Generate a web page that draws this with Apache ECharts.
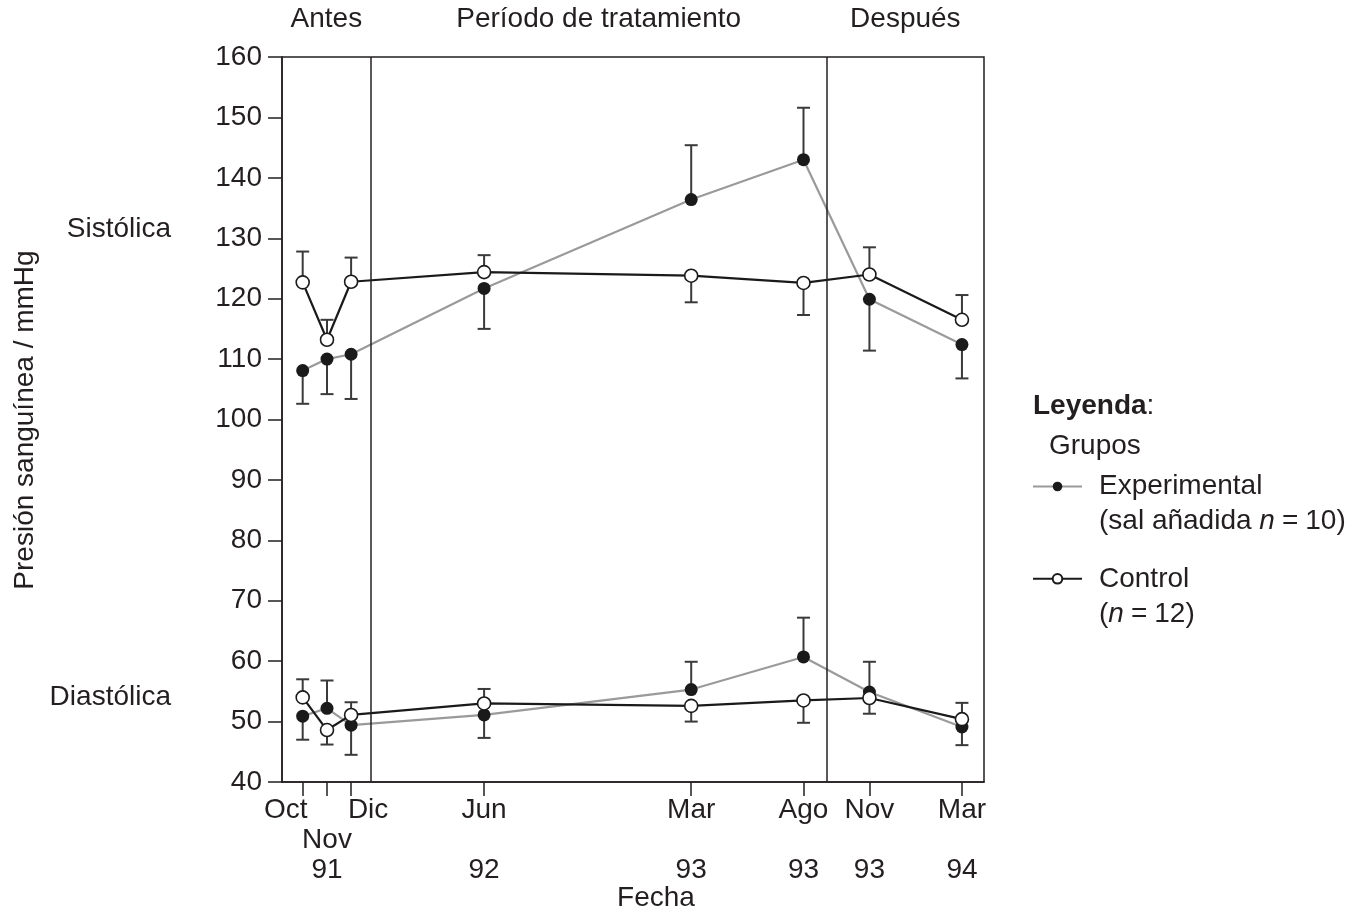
<!DOCTYPE html>
<html><head><meta charset="utf-8">
<script src="https://cdn.jsdelivr.net/npm/echarts@6/dist/echarts.min.js"></script>
<style>html,body{margin:0;padding:0;background:#fff}#c{width:1367px;height:915px}</style>
</head><body><div id="c"></div>
<script>
// Months since Oct 1991 at which measurements were taken
const xVals = [0, 1.07, 2.13, 7.98, 17.09, 22.03, 24.93, 29.0];
const xLabels = ['Oct', '\nNov\n91', 'Dic', 'Jun\n \n92', 'Mar\n \n93', 'Ago\n \n93', 'Nov\n \n93', 'Mar\n \n94'];
const phaseBounds = [2.99, 23.05];
const phaseNames = ['Antes', 'Período de tratamiento', 'Después'];

// Experimental (salt added, n = 10)
const expSys    = [108.1, 110.0, 110.8, 121.7, 136.4, 143.0, 119.9, 112.4];
const expSysErr = [102.6, 104.2, 103.4, 115.0, 145.4, 151.6, 111.4, 106.8];
const expDia    = [50.9, 52.2, 49.4, 51.1, 55.3, 60.7, 54.9, 49.1];
const expDiaErr = [47.0, 56.8, 44.5, 47.3, 59.9, 67.2, 59.9, 46.1];
// Control (n = 12)
const ctrlSys    = [122.7, 113.2, 122.8, 124.4, 123.8, 122.6, 124.0, 116.5];
const ctrlSysErr = [127.8, 116.5, 126.8, 127.2, 119.4, 117.3, 128.5, 120.6];
const ctrlDia    = [54.0, 48.6, 51.1, 53.0, 52.6, 53.5, 53.9, 50.4];
const ctrlDiaErr = [57.0, 46.2, 53.2, 55.4, 50.0, 49.8, 51.3, 53.1];

const X_MIN = -0.91, X_MAX = 29.97;
const FONT = '"Liberation Sans", Arial, Helvetica, sans-serif';
const C = '#231f20';
const FS = 28;

const chart = echarts.init(document.getElementById('c'), null, {renderer: 'canvas'});

function pts(vals) { return xVals.map((x, i) => [x, vals[i]]); }
function errPts(vals, ends) { return xVals.map((x, i) => [x, vals[i], ends[i]]); }

function errRender(params, api) {
  const x = api.value(0), v = api.value(1), e = api.value(2);
  const p0 = api.coord([x, v]), p1 = api.coord([x, e]);
  const hw = 6.5;
  const st = {stroke: '#3a3a3a', lineWidth: 2};
  return {type: 'group', children: [
    {type: 'line', shape: {x1: p0[0], y1: p0[1], x2: p1[0], y2: p1[1]}, style: st},
    {type: 'line', shape: {x1: p1[0] - hw, y1: p1[1], x2: p1[0] + hw, y2: p1[1]}, style: st}
  ]};
}

function errSeries(vals, ends) {
  return {type: 'custom', renderItem: errRender, data: errPts(vals, ends), z: 1, silent: true,
          encode: {x: 0, y: [1, 2]}};
}

const expLine = {color: '#9a9a9a', width: 2.2};
const expItem = {color: '#1a1a1a'};
const ctrlLine = {color: '#1a1a1a', width: 2.2};
const ctrlItem = {color: '#ffffff', borderColor: '#1a1a1a', borderWidth: 1.6};
const SYM = 13;

const tok = {fontSize: FS, fontFamily: FONT, color: C, lineHeight: 35};
const legendRich = {
  a: tok,
  i: Object.assign({}, tok, {fontStyle: 'italic'}),
  e: Object.assign({}, tok, {padding: [0, 7, 0, 7]})
};
const axisTok = {fontSize: FS, fontFamily: FONT, color: C, lineHeight: 30};

// label positions: a blank one at the axis start keeps the first real labels from being auto-hidden
const labelVals = [X_MIN].concat(xVals);

const option = {
  animation: false,
  backgroundColor: '#ffffff',
  textStyle: {fontFamily: FONT, color: C},
  grid: {left: 282, right: 383, top: 57, bottom: 133, show: true, borderColor: C, borderWidth: 1.5,
         backgroundColor: 'transparent', containLabel: false},
  xAxis: {
    type: 'value', min: X_MIN, max: X_MAX,
    axisLine: {show: true, onZero: false, lineStyle: {color: C, width: 1.5}},
    axisTick: {show: true, customValues: xVals, length: 14, lineStyle: {color: C, width: 1.5}},
    axisLabel: {
      show: true, customValues: labelVals, margin: 13, fontSize: FS, lineHeight: 30, color: C, fontFamily: FONT,
      formatter: function (v) {
        if (v === X_MIN) return ' ';
        let i = xVals.indexOf(v);
        if (i < 0) { let best = 0; xVals.forEach((x, k) => { if (Math.abs(x - v) < Math.abs(xVals[best] - v)) best = k; }); i = best; }
        const t = xLabels[i];
        if (i === 0) return '{l|' + t + '}';
        if (i === 2) return '{r|' + t + '}';
        return t;
      },
      rich: {
        l: Object.assign({}, axisTok, {padding: [0, 34, 0, 0]}),
        r: Object.assign({}, axisTok, {padding: [0, 0, 0, 34]})
      }
    },
    splitLine: {show: false}
  },
  yAxis: {
    type: 'value', min: 40, max: 160, interval: 10,
    axisLine: {show: true, onZero: false, lineStyle: {color: C, width: 1.5}},
    axisTick: {show: true, length: 14, lineStyle: {color: C, width: 1.5}},
    axisLabel: {margin: 20, fontSize: FS, color: C, fontFamily: FONT},
    splitLine: {show: false}
  },
  legend: [
    {
      data: ['Experimental'], orient: 'vertical', left: 1032, top: 437.5, padding: 0,
      itemWidth: 49, itemHeight: 12, selectedMode: false,
      formatter: () => '{a| }\n{a|Experimental}\n{a|(sal añadida }{i|n}{e|=}{a|10)}',
      textStyle: {padding: [0, 0, 0, 12], fontSize: FS, fontFamily: FONT, color: C, rich: legendRich}
    },
    {
      data: ['Control'], orient: 'vertical', left: 1032, top: 529.8, padding: 0,
      itemWidth: 49, itemHeight: 12, selectedMode: false,
      formatter: () => '{a| }\n{a|Control}\n{a|(}{i|n}{e|=}{a|12)}',
      textStyle: {padding: [0, 0, 0, 12], fontSize: FS, fontFamily: FONT, color: C, rich: legendRich}
    }
  ],
  series: [
    errSeries(expSys, expSysErr),
    errSeries(expDia, expDiaErr),
    errSeries(ctrlSys, ctrlSysErr),
    errSeries(ctrlDia, ctrlDiaErr),
    {name: 'Experimental', type: 'line', data: pts(expSys), symbol: 'circle', symbolSize: SYM,
     itemStyle: expItem, lineStyle: expLine, z: 3, emphasis: {disabled: true}},
    {name: 'Experimental', type: 'line', data: pts(expDia), symbol: 'circle', symbolSize: SYM,
     itemStyle: expItem, lineStyle: expLine, z: 3, emphasis: {disabled: true}},
    {name: 'Control', type: 'line', data: pts(ctrlSys), symbol: 'circle', symbolSize: SYM,
     itemStyle: ctrlItem, lineStyle: ctrlLine, z: 4, emphasis: {disabled: true},
     markLine: {silent: true, symbol: ['none', 'none'], label: {show: false}, animation: false,
                lineStyle: {color: C, width: 1.5, type: 'solid'},
                data: phaseBounds.map(v => ({xAxis: v}))}},
    {name: 'Control', type: 'line', data: pts(ctrlDia), symbol: 'circle', symbolSize: SYM,
     itemStyle: ctrlItem, lineStyle: ctrlLine, z: 4, emphasis: {disabled: true}}
  ]
};

chart.setOption(option);

// Phase labels centred in each phase, computed through the axis scale
const bounds = [X_MIN].concat(phaseBounds, [X_MAX]);
const phaseTexts = phaseNames.map((name, k) => {
  const a = chart.convertToPixel({xAxisIndex: 0}, bounds[k]);
  const b = chart.convertToPixel({xAxisIndex: 0}, bounds[k + 1]);
  return {type: 'text', x: (a + b) / 2, y: 19,
          style: {text: name, fontSize: FS, fontFamily: FONT, fill: C, align: 'center', verticalAlign: 'middle',
                  textAlign: 'center', textVerticalAlign: 'middle'}};
});

function txt(text, x, y, align, extra) {
  return Object.assign({type: 'text', x: x, y: y,
    style: {text: text, fontSize: FS, fontFamily: FONT, fill: C, align: align, verticalAlign: 'middle',
            textAlign: align, textVerticalAlign: 'middle'}}, extra || {});
}

chart.setOption({
  graphic: phaseTexts.concat([
    txt('Sistólica', 171, 229, 'right'),
    txt('Diastólica', 171, 697, 'right'),
    txt('Presión sanguínea / mmHg', 25, 420, 'center', {rotation: Math.PI / 2}),
    txt('Fecha', 656, 898, 'center'),
    {type: 'text', x: 1033, y: 406,
     style: {text: '{b|Leyenda}{n|:}', fontSize: FS, fontFamily: FONT, fill: C, align: 'left', verticalAlign: 'middle',
             textAlign: 'left', textVerticalAlign: 'middle',
             rich: {b: {fontSize: FS, fontFamily: FONT, fontWeight: 'bold', fill: C, color: C},
                    n: {fontSize: FS, fontFamily: FONT, fill: C, color: C}}}},
    txt('Grupos', 1049, 446, 'left')
  ])
});
</script>
</body></html>
